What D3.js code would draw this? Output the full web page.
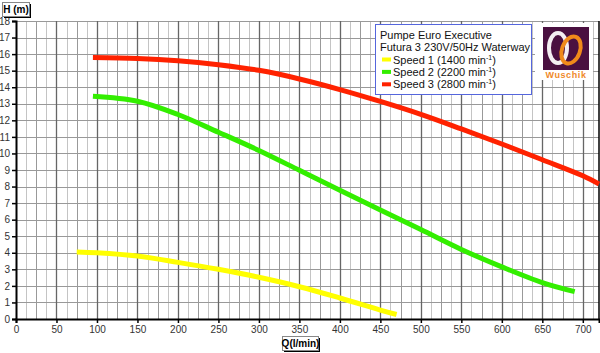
<!DOCTYPE html>
<html>
<head>
<meta charset="utf-8">
<script src="https://cdn.jsdelivr.net/npm/d3@7"></script>
<style>
  body { margin: 0; background: #fff; }
  svg { display: block; font-family: "Liberation Sans", Arial, sans-serif; }
</style>
</head>
<body>
<svg width="600" height="353"></svg>
<script>
(function () {
    var svg = d3.select('svg');

    // pump curves, Q in l/min, H in m
    var qSpeed1 = [75, 100, 150, 200, 250, 300, 350, 400, 450, 470];
    var hSpeed1 = [4.05, 4.0, 3.8, 3.42, 3.0, 2.52, 1.95, 1.27, 0.54, 0.27];
    var qSpeed2 = [95, 150, 200, 250, 300, 350, 400, 450, 500, 550, 600, 650, 690];
    var hSpeed2 = [13.45, 13.15, 12.35, 11.28, 10.18, 8.98, 7.77, 6.58, 5.4, 4.2, 3.15, 2.2, 1.65];
    var qSpeed3 = [95, 150, 200, 250, 300, 350, 400, 450, 500, 550, 600, 650, 700, 720];
    var hSpeed3 = [15.8, 15.74, 15.6, 15.36, 15.02, 14.5, 13.86, 13.14, 12.36, 11.48, 10.57, 9.62, 8.65, 8.15];

    var xTicks = [0, 50, 100, 150, 200, 250, 300, 350, 400, 450, 500, 550, 600, 650, 700];
    var yTicks = [0, 1, 2, 3, 4, 5, 6, 7, 8, 9, 10, 11, 12, 13, 14, 15, 16, 17, 18];

    var legendTitle = ['Pumpe Euro Executive', 'Futura 3 230V/50Hz Waterway'];
    var seriesNames = ['Speed 1 (1400 min', 'Speed 2 (2200 min', 'Speed 3 (2800 min'];
    var seriesColors = ['#ffff00', '#33ee00', '#ff2200'];

    var x = d3.scaleLinear().domain([0, 720]).range([16, 599]);
    var y = d3.scaleLinear().domain([0, 18]).range([319, 21]);

    // grid
    var grid = svg.append('g');
    var minor = d3.range(0, 720.1, 12.5).filter(function(v) { return v % 50 !== 0; });
    grid.selectAll('.vminor').data(minor).enter().append('line')
        .attr('x1', function(d) { return Math.round(x(d)) + 0.5; })
        .attr('x2', function(d) { return Math.round(x(d)) + 0.5; })
        .attr('y1', y(18)).attr('y2', y(0))
        .attr('stroke', function(d, i) { return i % 3 === 1 ? '#999' : '#c4c4c4'; })
        .attr('stroke-width', 1);
    grid.selectAll('.h').data(yTicks).enter().append('line')
        .attr('x1', x(0)).attr('x2', x(720))
        .attr('y1', function(d) { return Math.round(y(d)) + 0.5; })
        .attr('y2', function(d) { return Math.round(y(d)) + 0.5; })
        .attr('stroke', '#999').attr('stroke-width', 1.2);
    grid.selectAll('.vmajor').data(xTicks.slice(1)).enter().append('line')
        .attr('x1', function(d) { return Math.round(x(d)) + 0.5; })
        .attr('x2', function(d) { return Math.round(x(d)) + 0.5; })
        .attr('y1', y(18)).attr('y2', y(0))
        .attr('stroke', '#666').attr('stroke-width', 1.3);

    // axes
    var xAxis = d3.axisBottom(x).tickValues(xTicks).tickSize(4).tickPadding(3);
    var gx = svg.append('g').attr('transform', 'translate(0,' + y(0) + ')').call(xAxis);
    var yAxis = d3.axisLeft(y).tickValues(yTicks).tickSize(4).tickPadding(2);
    var gy = svg.append('g').attr('transform', 'translate(' + x(0) + ',0)').call(yAxis);
    [gx, gy].forEach(function(g) {
        g.select('.domain').attr('stroke', '#000').attr('stroke-width', 2);
        g.selectAll('.tick line').attr('stroke', '#000').attr('stroke-width', 1.5);
        g.selectAll('.tick text').attr('fill', '#333').style('font-size', '10px')
            .style('font-family', '"Liberation Sans", Arial, sans-serif');
    });
    svg.append('line').attr('x1', x(720)).attr('x2', x(720))
        .attr('y1', y(18)).attr('y2', y(0)).attr('stroke', '#000').attr('stroke-width', 1.5);

    // curves
    var line = d3.line()
        .x(function(d) { return x(d[0]); })
        .y(function(d) { return y(d[1]); })
        .curve(d3.curveCatmullRom.alpha(0.5));
    var curves = [
        d3.zip(qSpeed1, hSpeed1),
        d3.zip(qSpeed2, hSpeed2),
        d3.zip(qSpeed3, hSpeed3)
    ];
    svg.append('g').selectAll('path').data(curves).enter().append('path')
        .attr('d', line)
        .attr('fill', 'none')
        .attr('stroke', function(d, i) { return seriesColors[i]; })
        .attr('stroke-width', 5);

    // legend
    var lg = svg.append('g');
    lg.append('rect').attr('x', 375.5).attr('y', 24.5).attr('width', 156).attr('height', 70)
        .attr('fill', '#fff').attr('stroke', '#5566dd').attr('stroke-width', 1);
    legendTitle.forEach(function(t, i) {
        lg.append('text').attr('x', 380).attr('y', 39 + i * 12)
            .style('font-size', '11px').attr('fill', '#111').text(t);
    });
    seriesNames.forEach(function(t, i) {
        var yy = 63.5 + i * 12.4;
        lg.append('rect').attr('x', 382).attr('y', yy - 6).attr('width', 9).attr('height', 4)
            .attr('fill', seriesColors[i]);
        var tx = lg.append('text').attr('x', 393).attr('y', yy)
            .style('font-size', '11px').attr('fill', '#111');
        tx.append('tspan').text(t);
        tx.append('tspan').attr('dy', -4).style('font-size', '7px').text('-1');
        tx.append('tspan').attr('dy', 4).text(')');
    });

    // logo
    var logo = svg.append('g');
    logo.append('rect').attr('x', 535).attr('y', 23).attr('width', 58).attr('height', 57).attr('fill', '#fff');
    logo.append('rect').attr('x', 543).attr('y', 27).attr('width', 46).attr('height', 43).attr('fill', '#4a1040');
    logo.append('ellipse').attr('cx', 558).attr('cy', 48).attr('rx', 9).attr('ry', 15)
        .attr('fill', 'none').attr('stroke', '#f4eef2').attr('stroke-width', 4);
    logo.append('ellipse').attr('cx', 571).attr('cy', 50).attr('rx', 9).attr('ry', 14)
        .attr('transform', 'rotate(20,571,50)')
        .attr('fill', 'none').attr('stroke', '#f08a1a').attr('stroke-width', 4);
    logo.append('text').attr('x', 566).attr('y', 78).attr('text-anchor', 'middle')
        .style('font-size', '9px').style('font-weight', 'bold').style('letter-spacing', '0.6px')
        .attr('fill', '#f08a2a').text('Wuschik');

    // axis title boxes
    function titleBox(bx, by, w, h, label) {
        var g = svg.append('g');
        g.append('rect').attr('x', bx + 2).attr('y', by + 2).attr('width', w).attr('height', h).attr('fill', '#000');
        g.append('rect').attr('x', bx + 0.5).attr('y', by + 0.5).attr('width', w).attr('height', h)
            .attr('fill', '#fff').attr('stroke', '#888').attr('stroke-width', 1);
        g.append('text').attr('x', bx + w / 2 + 0.5).attr('y', by + h - 3.5).attr('text-anchor', 'middle')
            .style('font-size', '10px').style('font-weight', 'bold').attr('fill', '#000').text(label);
    }
    titleBox(2, 2, 27, 14, 'H (m)');
    titleBox(282, 336, 36, 14, 'Q(l/min)');
}());
</script>
</body>
</html>
